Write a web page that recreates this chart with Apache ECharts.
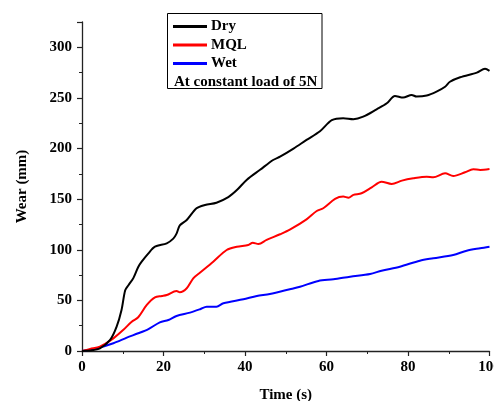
<!DOCTYPE html>
<html>
<head>
<meta charset="utf-8">
<script src="https://cdn.jsdelivr.net/npm/echarts@6/dist/echarts.min.js"></script>
<style>
  html, body { margin: 0; padding: 0; background: #fff; }
  #wear-chart { width: 494px; height: 401px; }
</style>
</head>
<body>
<div id="wear-chart"></div>
<script>
// Wear vs time at a constant 5N load

const seriesNames = ["Dry", "MQL", "Wet"];
const seriesColors = ["#000000", "#ff0000", "#0000ff"];

const dryTime = [0, 2, 4.4, 6.9, 8.5, 9.7, 10.6, 11.4, 12.6, 13.8, 14.6, 16.3, 17.9, 20.8, 22.4, 23.2, 24, 25.7, 28.1, 30.2, 33, 35.9, 38, 40.4, 43.7, 46.9, 48.6, 51.9, 55.1, 58.4, 61.3, 64.1, 66.6, 69, 72.3, 74.8, 76.8, 78.8, 80.9, 82.1, 84.6, 87, 89.1, 90.3, 92.8, 96.9, 98.9, 100];
const dryWear = [0, 0.5, 2.6, 10.9, 24, 40.5, 60, 65, 72, 83, 88, 96.5, 103, 106.4, 111, 116, 124, 129.4, 141, 144.3, 146.5, 152, 159, 169, 179, 188.7, 192, 200, 208.5, 217, 228, 230, 229, 231.5, 238.8, 244.7, 252, 250.3, 253, 251.3, 252.3, 256.2, 261, 266, 270.4, 275, 278.7, 276.7];

const mqlTime = [0, 2, 4.4, 7.7, 10.1, 12.2, 13.8, 15.9, 17.9, 19.6, 20.8, 23.2, 24, 25.7, 27.3, 29, 32.2, 35.5, 38, 40.8, 41.9, 43.3, 45.3, 48.6, 51, 55.1, 57.6, 59.2, 62.1, 64.1, 65.4, 66.6, 68.6, 71.1, 73.5, 76, 78.5, 81.3, 84.6, 86.2, 89.1, 91.1, 94, 96, 97.7, 100];
const mqlWear = [0, 2, 4.3, 12.5, 20.7, 29, 33.3, 45.5, 53, 54.3, 55.3, 59.3, 58, 62, 71.8, 77.5, 88.2, 99.8, 103, 104.7, 107, 105.7, 109.7, 115.3, 119.8, 130, 138.3, 141, 150.2, 152.5, 151.5, 154.2, 155.8, 161.7, 167.3, 165, 168.3, 170.6, 172.2, 171.6, 175.5, 172.9, 176.6, 179.5, 178.9, 179.8];

const wetTime = [0, 3.6, 7.7, 11, 13.8, 16.3, 19.1, 21.2, 23.2, 26.5, 29, 30.6, 33, 34.7, 39.6, 42.9, 46.1, 51, 53.5, 58, 61.7, 65.8, 70.7, 73.5, 78, 82.9, 86.2, 91.1, 94.4, 97.7, 100];
const wetWear = [0, 2.6, 7.6, 13.2, 17.5, 21.7, 28.3, 30.6, 34.6, 37.9, 41.3, 43.8, 43.8, 47.1, 51.1, 54.3, 56.3, 61, 63.5, 69.2, 70.8, 73.4, 76.1, 79.3, 83.3, 89.2, 91.6, 94.9, 99.1, 101.5, 103];

const xTicks = { min: 0, max: 100, interval: 20 };
const yTicks = { min: 0, max: 325, interval: 50 };

const noteText = "At constant load of 5N";

function initWearChart() {
  const chart = echarts.init(document.getElementById("wear-chart"));
  const font = "Liberation Serif";
  const pairs = (xs, ys) => xs.map((x, i) => [x, ys[i]]);
  const allData = [pairs(dryTime, dryWear), pairs(mqlTime, mqlWear), pairs(wetTime, wetWear)];

  const axisCommon = {
    axisLine: { show: true, lineStyle: { color: "#222", width: 1.3 } },
    axisTick: { show: true, inside: false, length: 5, lineStyle: { color: "#222", width: 1.2 } },
    minorTick: { show: true, splitNumber: 2, length: 3, lineStyle: { color: "#222", width: 1 } },
    splitLine: { show: false },
    nameTextStyle: { fontFamily: font, fontWeight: "bold", fontSize: 15, color: "#000" },
  };

  const option = {
    animation: false,
    grid: { left: 82, right: 4.5, top: 22, bottom: 50, containLabel: false, outerBoundsMode: "none" },
    xAxis: Object.assign({}, axisCommon, {
      type: "value",
      min: xTicks.min,
      max: xTicks.max,
      interval: xTicks.interval,
      name: "Time (s)",
      nameLocation: "middle",
      nameGap: 37,
      axisLabel: { fontFamily: font, fontWeight: "bold", fontSize: 15, color: "#000", margin: 9 },
    }),
    yAxis: Object.assign({}, axisCommon, {
      type: "value",
      min: yTicks.min,
      max: yTicks.max,
      interval: yTicks.interval,
      name: "Wear (mm)",
      nameLocation: "middle",
      nameGap: 52,
      axisLabel: {
        fontFamily: font, fontWeight: "bold", fontSize: 15, color: "#000", margin: 10,
        formatter: (v) => (v % 50 === 0 ? String(v) : ""),
      },
    }),
    legend: {
      orient: "vertical",
      left: 173,
      top: 19,
      itemWidth: 34,
      itemHeight: 3,
      itemGap: 3.5,
      icon: "rect",
      padding: 0,
      textStyle: { fontFamily: font, fontWeight: "bold", fontSize: 15, color: "#000", padding: [0, 0, 0, -1] },
      data: seriesNames,
    },
    graphic: [
      {
        type: "rect",
        shape: { x: 167.5, y: 13.5, width: 154.5, height: 75 },
        style: { fill: "none", stroke: "#000", lineWidth: 1 },
      },
      {
        type: "text",
        left: 174,
        top: 74.5,
        style: { text: noteText, fontFamily: font, fontWeight: "bold", fontSize: 15, fill: "#000" },
      },
    ],
    series: seriesNames.map((name, i) => ({
      name: name,
      type: "line",
      data: allData[i],
      showSymbol: false,
      smooth: 0.3,
      lineStyle: { color: seriesColors[i], width: 2 },
      itemStyle: { color: seriesColors[i] },
      z: 3 - i,
    })),
  };

  chart.setOption(option);
  return chart;
}

window.wearChart = initWearChart();
</script>
</body>
</html>
